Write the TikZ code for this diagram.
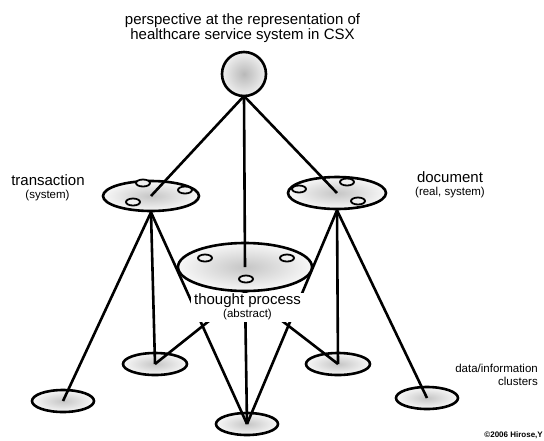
\documentclass[tikz,border=0pt]{standalone}
\usepackage{fontspec}
\setmainfont{Liberation Sans}
\usetikzlibrary{shapes.geometric}
\pgfdeclarelayer{back}
\pgfsetlayers{back,main}

\begin{document}
\begin{tikzpicture}[x=1pt,y=-1pt,
  plate/.style={ellipse, draw=black, line width=2.6pt, inner sep=0pt,
    inner color=gray!45, outer color=gray!6},
  hub/.style={circle, draw=black, line width=2.6pt, inner sep=0pt,
    minimum size=44pt, inner color=gray!55, outer color=gray!12},
  hole/.style={ellipse, draw=black, line width=1.8pt, fill=gray!12,
    minimum width=14pt, minimum height=7pt, inner sep=0pt},
  link/.style={line width=2.6pt, draw=black},
  big/.style={font=\fontsize{15}{15}\selectfont, inner sep=0pt, anchor=base},
  small/.style={font=\fontsize{11.5}{11.5}\selectfont, inner sep=0pt, anchor=base},
]
\useasboundingbox (0,0) rectangle (544,440);

% middle level plates
\node[plate, minimum width=96pt, minimum height=30pt] (trans) at (151,196) {};
\node[plate, minimum width=98pt, minimum height=32pt] (doc) at (337,193) {};
\node[plate, minimum width=134pt, minimum height=48pt] (thought) at (245,267) {};

% clusters on the plates
\node[hole] (t1) at (143,183) {};
\node[hole] (t2) at (185,190) {};
\node[hole] (t3) at (133,202) {};
\node[hole] (d1) at (347,182) {};
\node[hole] (d2) at (299,189) {};
\node[hole] (d3) at (358,201) {};
\node[hole] (p1) at (205,258) {};
\node[hole] (p2) at (287,258) {};
\node[hole] (p3) at (246,279) {};

% lower level: data/information clusters and their links
\begin{pgfonlayer}{back}
  \node[plate, minimum width=62pt, minimum height=22pt] (c1) at (63,401) {};
  \node[plate, minimum width=64pt, minimum height=22pt] (c2) at (155,364) {};
  \node[plate, minimum width=62pt, minimum height=22pt] (c3) at (247,424) {};
  \node[plate, minimum width=64pt, minimum height=22pt] (c4) at (338,364) {};
  \node[plate, minimum width=62pt, minimum height=22pt] (c5) at (427,398) {};
  \draw[link] (trans.south) -- (c1.center);
  \draw[link] (trans.south) -- (c2.center);
  \draw[link] (trans.south) -- (c3.center);
  \draw[link] (thought.south) -- (c2.center);
  \draw[link] (thought.south) -- (c3.center);
  \draw[link] (thought.south) -- (c4.center);
  \draw[link] (doc.south) -- (c3.center);
  \draw[link] (doc.south) -- (c4.center);
  \draw[link] (doc.south) -- (c5.center);
\end{pgfonlayer}

% top perspective and its links
\coordinate (hubfoot) at (244,96);
\draw[link] (hubfoot) -- (trans.center);
\draw[link] (hubfoot) -- (thought.center);
\draw[link] (hubfoot) -- (doc.center);
\node[hub] (top) at (244,74) {};

% white ground under the thought-process caption
\node[fill=white, minimum width=114pt, minimum height=29pt, inner sep=0pt] (thmask) at (247.5,307.5) {};

% labels
\node[big] (title1) at (242.5,24) {perspective at the representation of};
\node[big] (title2) at (242.5,39) {healthcare service system in CSX};
\node[big] (translbl) at (48,185) {transaction};
\node[small] (transsub) at (47.5,198) {(system)};
\node[big] (doclbl) at (450,182) {document};
\node[small] (docsub) at (450,195) {(real, system)};
\node[big] (thlbl) at (247.5,304) {thought process};
\node[small] (thsub) at (247.5,317) {(abstract)};
\node[small, anchor=base east] (data1) at (538,372) {data/information};
\node[small, anchor=base east] (data2) at (538,385) {clusters};
\node[font=\bfseries\fontsize{8}{8}\selectfont, inner sep=0pt, anchor=base east] (copy) at (543,437) {©2006 Hirose,Y};
\end{tikzpicture}
\end{document}
